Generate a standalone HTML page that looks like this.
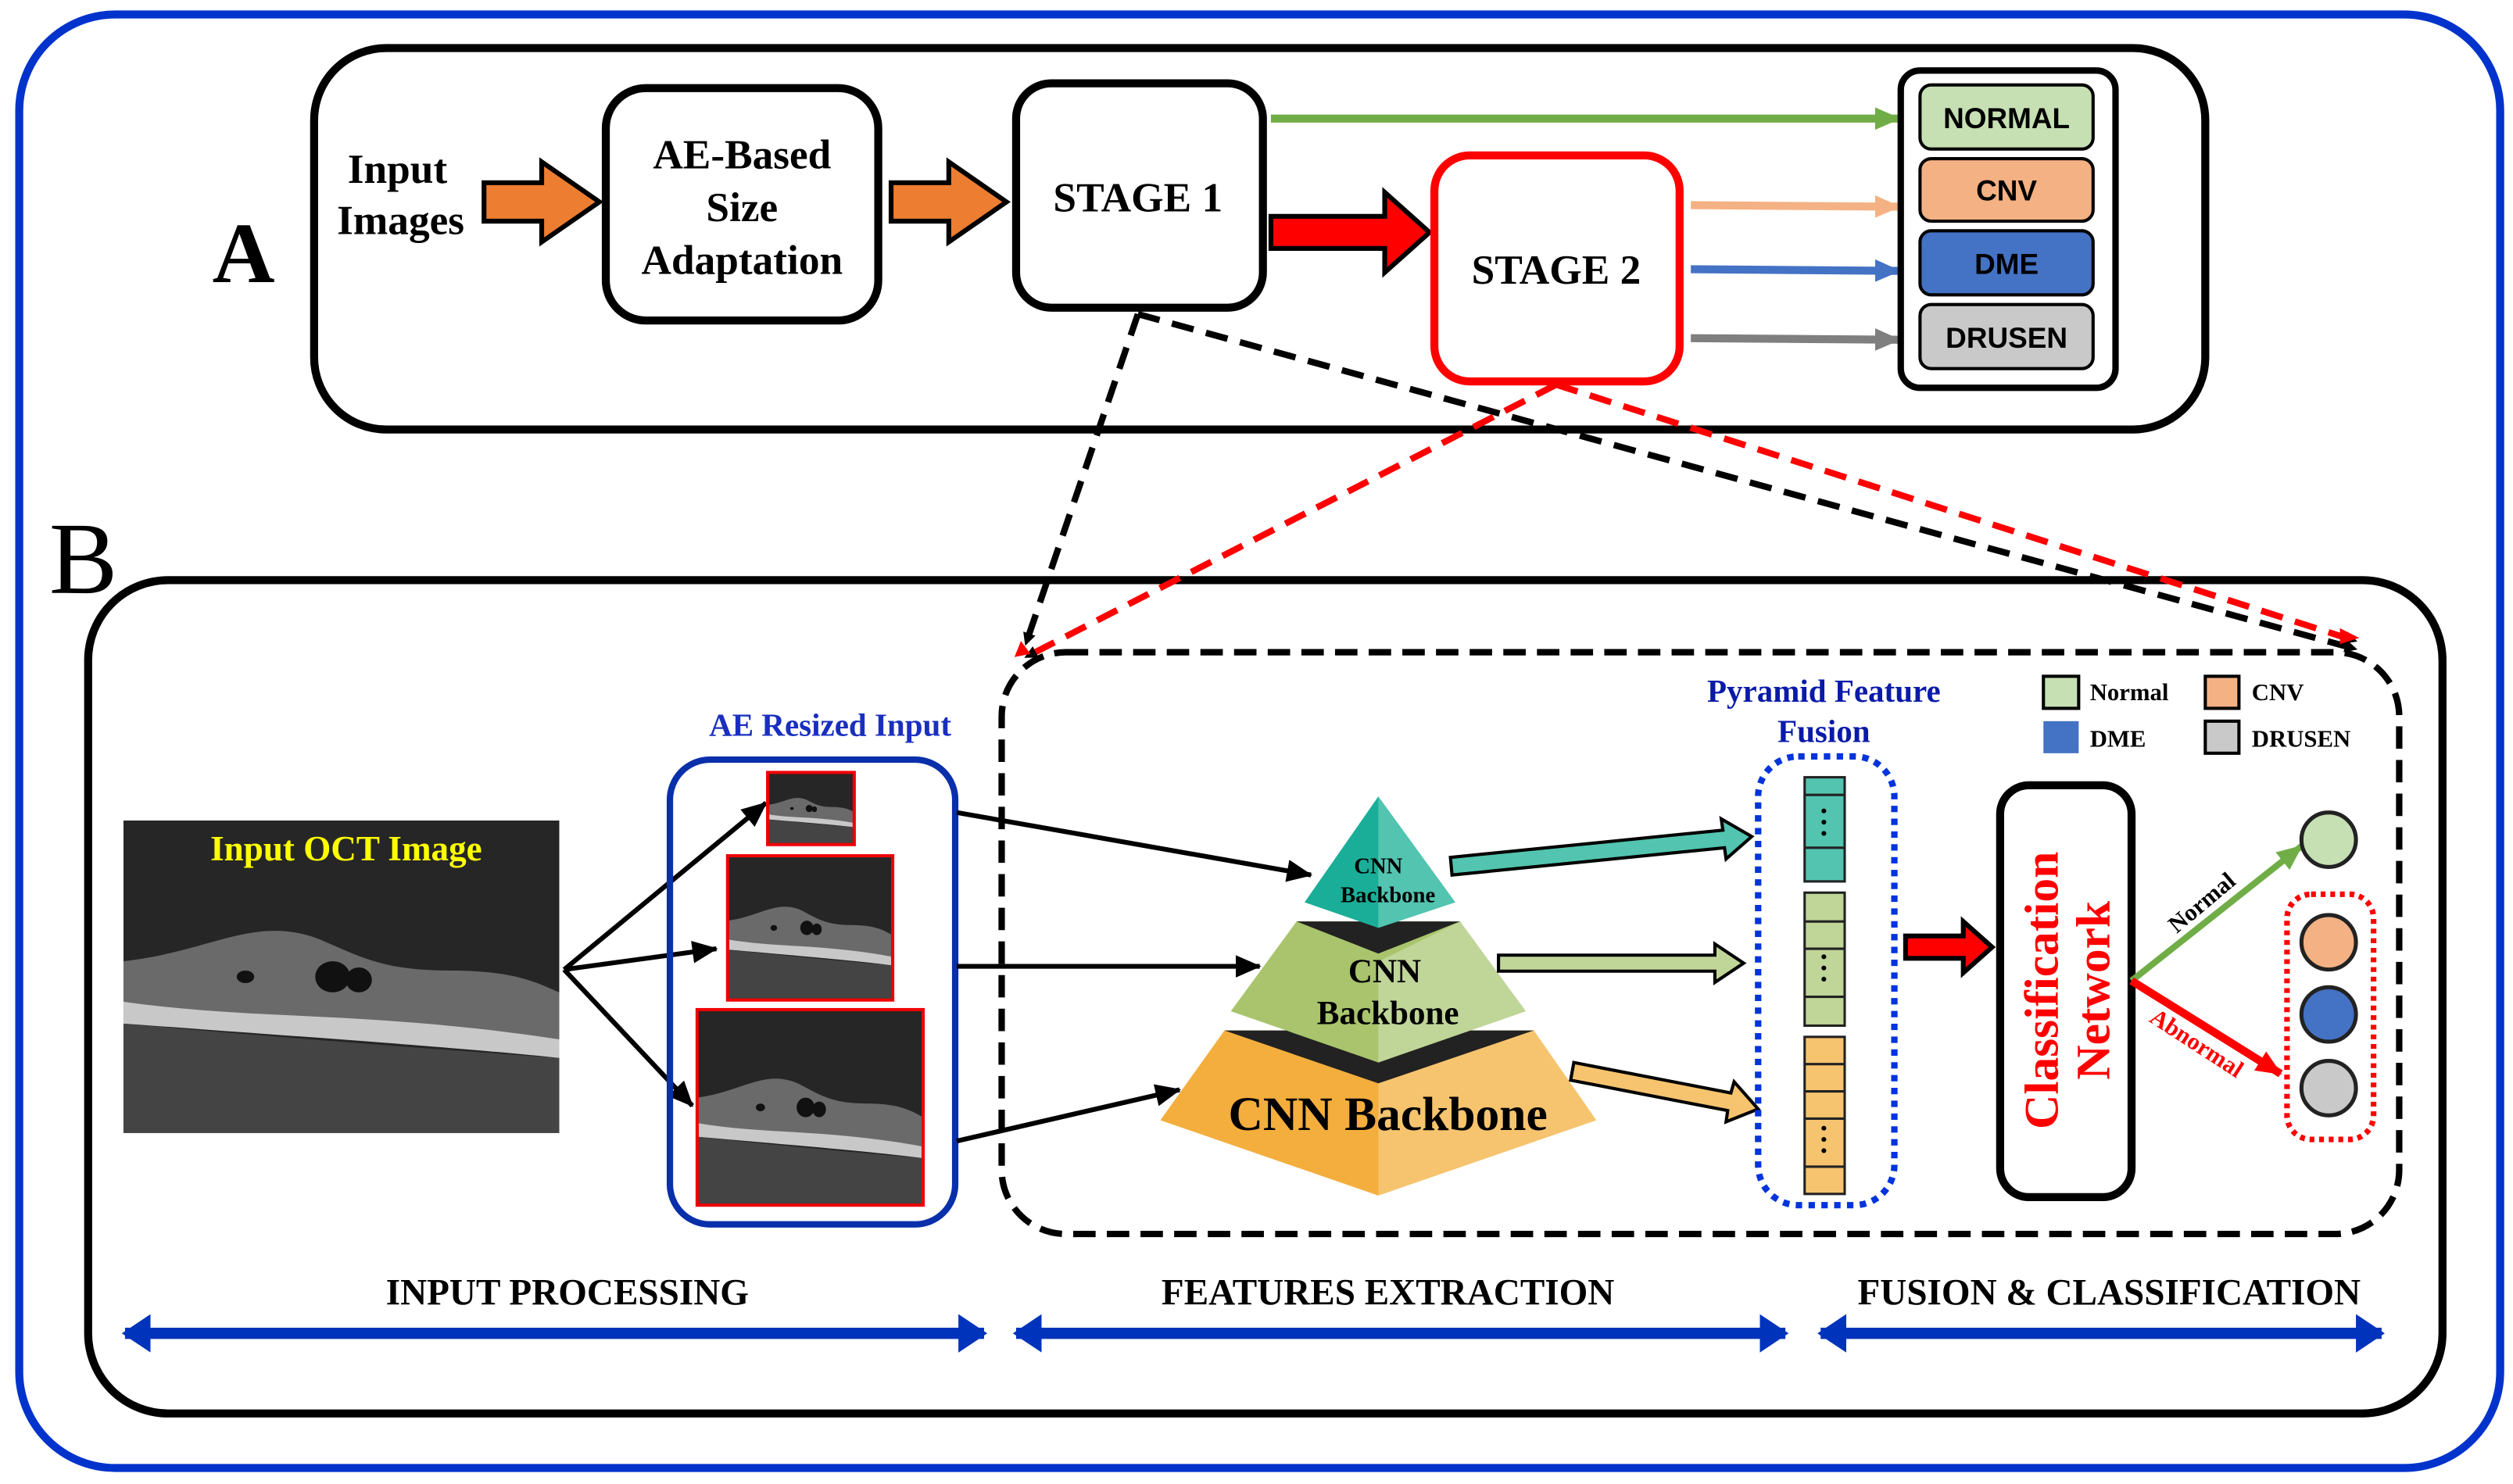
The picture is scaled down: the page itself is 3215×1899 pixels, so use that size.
<!DOCTYPE html>
<html><head><meta charset="utf-8"><style>html,body{margin:0;padding:0;background:#fff}svg{display:block}</style></head>
<body>
<svg width="3215" height="1899" viewBox="0 0 1568 926" preserveAspectRatio="none" xmlns="http://www.w3.org/2000/svg" font-family="'Liberation Serif',serif" font-weight="bold">
<defs>
<marker id="ab" markerWidth="8" markerHeight="8" refX="7" refY="4" orient="auto" markerUnits="userSpaceOnUse" viewBox="0 0 8 8"><path d="M0,0L8,4L0,8z" fill="#000"/></marker>
<marker id="ak" markerWidth="16" markerHeight="14" refX="15" refY="7" orient="auto" markerUnits="userSpaceOnUse"><path d="M0,0L16,7L0,14z" fill="#000"/></marker>
<marker id="ar" markerWidth="16" markerHeight="14" refX="15" refY="7" orient="auto" markerUnits="userSpaceOnUse"><path d="M0,0L16,7L0,14z" fill="#f00"/></marker>
<marker id="ag" markerWidth="16" markerHeight="14" refX="15" refY="7" orient="auto" markerUnits="userSpaceOnUse"><path d="M0,0L16,7L0,14z" fill="#70ad47"/></marker>
<marker id="ao" markerWidth="16" markerHeight="14" refX="15" refY="7" orient="auto" markerUnits="userSpaceOnUse"><path d="M0,0L16,7L0,14z" fill="#f4b183"/></marker>
<marker id="abl" markerWidth="16" markerHeight="14" refX="15" refY="7" orient="auto" markerUnits="userSpaceOnUse"><path d="M0,0L16,7L0,14z" fill="#4472c4"/></marker>
<marker id="agr" markerWidth="16" markerHeight="14" refX="15" refY="7" orient="auto" markerUnits="userSpaceOnUse"><path d="M0,0L16,7L0,14z" fill="#7f7f7f"/></marker>
<marker id="bb" markerWidth="22" markerHeight="26" refX="16" refY="13" orient="auto-start-reverse" markerUnits="userSpaceOnUse"><path d="M0,1L18,13L0,25z" fill="#0033bb"/></marker>
<g id="octimg"><rect x="0" y="0" width="100" height="100" fill="#262626"/><path d="M0,45 C20,42 30,30 45,38 C55,44 60,48 75,48 C90,48 95,52 100,55 L100,70 C90,68 70,66 50,64 C30,62 15,64 0,60z" fill="#6a6a6a"/><path d="M0,58 C20,62 40,62 60,64 C80,66 90,68 100,70 L100,76 C80,73 50,70 0,65z" fill="#c8c8c8"/><path d="M0,65 C40,70 80,74 100,76 L100,100 L0,100z" fill="#444"/><ellipse cx="48" cy="50" rx="4" ry="5" fill="#111"/><ellipse cx="54" cy="51" rx="3" ry="4" fill="#111"/><ellipse cx="28" cy="50" rx="2" ry="2" fill="#111"/></g>
</defs>
<rect x="12" y="9" width="1548" height="907" rx="60" fill="#fff" stroke="#0033cc" stroke-width="5"/>
<rect x="196" y="30" width="1180" height="238" rx="45" fill="none" stroke="#000" stroke-width="5"/>
<text x="152" y="176" font-size="54" text-anchor="middle">A</text>
<text x="248" y="114" font-size="26" text-anchor="middle">Input</text>
<text x="250" y="146" font-size="26" text-anchor="middle">Images</text>
<path d="M302,114 H338 V101 L374,126 L338,151 V138 H302z" fill="#ed7d31" stroke="#000" stroke-width="3"/>
<rect x="378" y="55" width="170" height="145" rx="25" fill="#fff" stroke="#000" stroke-width="5"/>
<text x="463" y="105" font-size="26" text-anchor="middle">AE-Based</text>
<text x="463" y="138" font-size="26" text-anchor="middle">Size</text>
<text x="463" y="171" font-size="26" text-anchor="middle">Adaptation</text>
<path d="M556,114 H592 V101 L628,126 L592,151 V138 H556z" fill="#ed7d31" stroke="#000" stroke-width="3"/>
<rect x="634" y="52" width="154" height="140" rx="22" fill="#fff" stroke="#000" stroke-width="5"/>
<text x="710" y="132" font-size="26" text-anchor="middle">STAGE 1</text>
<path d="M793,135 H864 V120 L892,145 L864,170 V155 H793z" fill="#f00" stroke="#000" stroke-width="3"/>
<rect x="895" y="97" width="153" height="141" rx="22" fill="#fff" stroke="#f00" stroke-width="5"/>
<text x="971" y="177" font-size="26" text-anchor="middle">STAGE 2</text>
<line x1="793" y1="74" x2="1185" y2="74" stroke="#70ad47" stroke-width="5" marker-end="url(#ag)"/>
<line x1="1055" y1="128" x2="1185" y2="129" stroke="#f4b183" stroke-width="5" marker-end="url(#ao)"/>
<line x1="1055" y1="168" x2="1185" y2="169" stroke="#4472c4" stroke-width="5" marker-end="url(#abl)"/>
<line x1="1055" y1="211" x2="1185" y2="212" stroke="#7f7f7f" stroke-width="5" marker-end="url(#agr)"/>
<rect x="1186" y="44" width="134" height="198" rx="12" fill="#fff" stroke="#000" stroke-width="4"/>
<g stroke="#000" stroke-width="2">
<rect x="1198" y="53" width="108" height="40" rx="7" fill="#c6e0b4"/>
<rect x="1198" y="99" width="108" height="39" rx="7" fill="#f4b183"/>
<rect x="1198" y="144" width="108" height="40" rx="7" fill="#4472c4"/>
<rect x="1198" y="190" width="108" height="40" rx="7" fill="#c9c9c9"/>
</g>
<g font-family="'Liberation Sans',sans-serif" font-size="18" text-anchor="middle">
<text x="1252" y="80">NORMAL</text><text x="1252" y="125">CNV</text><text x="1252" y="171">DME</text><text x="1252" y="217">DRUSEN</text>
</g>
<text x="52" y="370" font-size="64" font-weight="normal" text-anchor="middle">B</text>
<rect x="55" y="362" width="1469" height="520" rx="50" fill="none" stroke="#000" stroke-width="5"/>
<g stroke-width="4" stroke-dasharray="14,8" fill="none">
<line x1="710" y1="196" x2="640" y2="402" stroke="#000" marker-end="url(#ab)"/>
<line x1="710" y1="196" x2="1470" y2="405" stroke="#000" marker-end="url(#ab)"/>
<line x1="971" y1="240" x2="640" y2="410" stroke="#f00" marker-end="url(#ab)"/>
<line x1="971" y1="240" x2="1470" y2="400" stroke="#f00" marker-end="url(#ab)"/>
</g>
<path d="M633,410 l10,-2 l-6,-8z M1472,398 l-12,-6 l0,10z" fill="#f00"/>
<rect x="625" y="407" width="872" height="363" rx="40" fill="none" stroke="#000" stroke-width="4" stroke-dasharray="14,7"/>
<svg x="77" y="512" width="272" height="195" viewBox="0 0 100 100" preserveAspectRatio="none"><use href="#octimg"/></svg>
<text x="216" y="537" font-size="22" fill="#ffff00" text-anchor="middle">Input OCT Image</text>
<g stroke="#000" stroke-width="3" marker-end="url(#ak)">
<line x1="352" y1="605" x2="478" y2="501"/><line x1="352" y1="605" x2="447" y2="592"/><line x1="352" y1="605" x2="432" y2="690"/>
</g>
<text x="518" y="459" font-size="20" fill="#1a2fbf" text-anchor="middle">AE Resized Input</text>
<rect x="418" y="474" width="178" height="290" rx="25" fill="none" stroke="#0a2faa" stroke-width="4"/>
<svg x="479" y="482" width="54" height="45" viewBox="0 0 100 100" preserveAspectRatio="none"><use href="#octimg"/></svg>
<rect x="479" y="482" width="54" height="45" fill="none" stroke="#e00" stroke-width="2"/>
<svg x="454" y="534" width="103" height="90" viewBox="0 0 100 100" preserveAspectRatio="none"><use href="#octimg"/></svg>
<rect x="454" y="534" width="103" height="90" fill="none" stroke="#e00" stroke-width="2"/>
<svg x="435" y="630" width="141" height="122" viewBox="0 0 100 100" preserveAspectRatio="none"><use href="#octimg"/></svg>
<rect x="435" y="630" width="141" height="122" fill="none" stroke="#e00" stroke-width="2"/>
<g stroke="#000" stroke-width="3" marker-end="url(#ak)">
<line x1="597" y1="507" x2="818" y2="546"/><line x1="597" y1="603" x2="786" y2="603"/><line x1="597" y1="712" x2="736" y2="680"/>
</g>
<polygon points="764,643 957,643 996,699 860,746 724,699" fill="#f4ae3d"/>
<polygon points="860,676 957,643 996,699 860,746" fill="#f6c46f"/>
<polygon points="764,643 957,643 860,676" fill="#222"/>
<polygon points="809,575 911,575 952,631 860,663 768,631" fill="#a9c46c"/>
<polygon points="860,600 911,575 952,631 860,663" fill="#c0d598"/>
<polygon points="809,575 911,575 860,595" fill="#222"/>
<polygon points="860,497 908,563 860,579 814,563" fill="#1aae98"/>
<polygon points="860,497 908,563 860,579" fill="#52c4b0"/>
<text x="860" y="545" font-size="14" text-anchor="middle">CNN</text>
<text x="866" y="563" font-size="14" text-anchor="middle">Backbone</text>
<text x="864" y="613" font-size="21" text-anchor="middle">CNN</text>
<text x="866" y="639" font-size="21" text-anchor="middle">Backbone</text>
<text x="866" y="705" font-size="30" text-anchor="middle">CNN Backbone</text>
<path d="M905,535 L1075,518 L1074,511 L1093,522 L1077,536 L1076,529 L906,546z" fill="#52c4b0" stroke="#000" stroke-width="2"/>
<path d="M935,596 H1070 V589 L1088,601 L1070,613 V606 H935z" fill="#c0d598" stroke="#000" stroke-width="2"/>
<path d="M982,663 L1080,682 L1082,675 L1097,692 L1077,700 L1078,693 L980,674z" fill="#f6c46f" stroke="#000" stroke-width="2"/>
<text x="1138" y="438" font-size="20" fill="#0a1aa8" text-anchor="middle">Pyramid Feature</text>
<text x="1138" y="463" font-size="20" fill="#0a1aa8" text-anchor="middle">Fusion</text>
<rect x="1097" y="472" width="85" height="280" rx="25" fill="none" stroke="#0033dd" stroke-width="4" stroke-dasharray="4,4"/>
<g stroke="#222" stroke-width="1.5">
<rect x="1126" y="485" width="25" height="65" fill="#52c4b0"/><line x1="1126" y1="496" x2="1151" y2="496"/><line x1="1126" y1="529" x2="1151" y2="529"/>
<rect x="1126" y="557" width="25" height="83" fill="#c0d598"/><line x1="1126" y1="575" x2="1151" y2="575"/><line x1="1126" y1="592" x2="1151" y2="592"/><line x1="1126" y1="622" x2="1151" y2="622"/>
<rect x="1126" y="647" width="25" height="98" fill="#f6c46f"/><line x1="1126" y1="664" x2="1151" y2="664"/><line x1="1126" y1="681" x2="1151" y2="681"/><line x1="1126" y1="698" x2="1151" y2="698"/><line x1="1126" y1="728" x2="1151" y2="728"/>
</g>
<g fill="#000"><circle cx="1138" cy="506" r="1.5"/><circle cx="1138" cy="513" r="1.5"/><circle cx="1138" cy="520" r="1.5"/>
<circle cx="1138" cy="597" r="1.5"/><circle cx="1138" cy="604" r="1.5"/><circle cx="1138" cy="611" r="1.5"/>
<circle cx="1138" cy="704" r="1.5"/><circle cx="1138" cy="711" r="1.5"/><circle cx="1138" cy="718" r="1.5"/></g>
<path d="M1189,584 H1225 V575 L1243,591 L1225,607 V598 H1189z" fill="#f00" stroke="#000" stroke-width="3"/>
<rect x="1248" y="490" width="82" height="257" rx="18" fill="#fff" stroke="#000" stroke-width="5"/>
<text transform="translate(1284,618) rotate(-90)" font-size="30" fill="#f00" text-anchor="middle">Classification</text>
<text transform="translate(1316,618) rotate(-90)" font-size="30" fill="#f00" text-anchor="middle">Network</text>
<rect x="1275" y="422" width="22" height="20" fill="#c6e0b4" stroke="#000" stroke-width="2"/>
<rect x="1376" y="422" width="21" height="20" fill="#f4b183" stroke="#000" stroke-width="2"/>
<rect x="1275" y="450" width="22" height="20" fill="#4472c4"/>
<rect x="1376" y="450" width="21" height="20" fill="#c9c9c9" stroke="#000" stroke-width="2"/>
<g font-size="15"><text x="1304" y="437">Normal</text><text x="1405" y="437">CNV</text><text x="1304" y="466">DME</text><text x="1405" y="466">DRUSEN</text></g>
<line x1="1330" y1="612" x2="1436" y2="528" stroke="#70ad47" stroke-width="4" marker-end="url(#ag)"/>
<line x1="1330" y1="612" x2="1423" y2="670" stroke="#f00" stroke-width="5" marker-end="url(#ar)"/>
<text transform="translate(1377,567) rotate(-40)" font-size="15" text-anchor="middle">Normal</text>
<text transform="translate(1368,655) rotate(33)" font-size="15" fill="#f00" text-anchor="middle">Abnormal</text>
<rect x="1427" y="558" width="54" height="153" rx="15" fill="none" stroke="#f00" stroke-width="3.5" stroke-dasharray="3,3"/>
<g stroke="#222" stroke-width="2.5">
<circle cx="1453" cy="524" r="17" fill="#c6e0b4"/><circle cx="1453" cy="588" r="17" fill="#f4b183"/>
<circle cx="1453" cy="633" r="17" fill="#4472c4"/><circle cx="1453" cy="679" r="17" fill="#c9c9c9"/></g>
<g font-size="23" text-anchor="middle"><text x="354" y="814">INPUT PROCESSING</text><text x="866" y="814">FEATURES EXTRACTION</text><text x="1316" y="814">FUSION &amp; CLASSIFICATION</text></g>
<g stroke="#0033bb" stroke-width="7" marker-start="url(#bb)" marker-end="url(#bb)">
<line x1="78" y1="832" x2="614" y2="832"/><line x1="634" y1="832" x2="1114" y2="832"/><line x1="1136" y1="832" x2="1486" y2="832"/></g>
</svg>
</body></html>
